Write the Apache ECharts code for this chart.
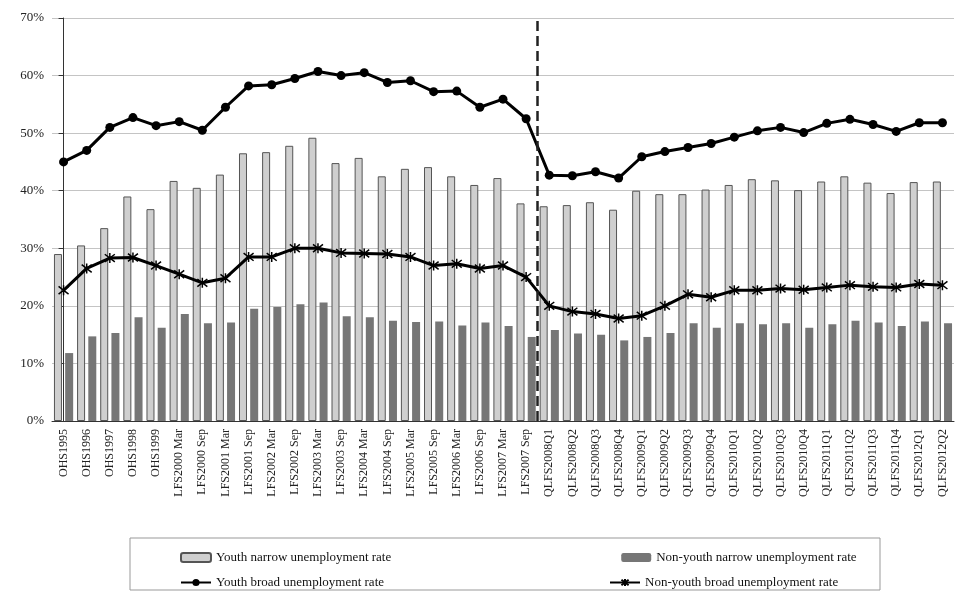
<!DOCTYPE html><html><head><meta charset="utf-8"><script src="https://cdn.jsdelivr.net/npm/echarts@6/dist/echarts.min.js"></script>
<style>body{margin:0;background:#fff}#c{width:956px;height:594px}</style></head><body><div id="c"></div><script>
const categories=["OHS1995","OHS1996","OHS1997","OHS1998","OHS1999","LFS2000 Mar","LFS2000 Sep","LFS2001 Mar","LFS2001 Sep","LFS2002 Mar","LFS2002 Sep","LFS2003 Mar","LFS2003 Sep","LFS2004 Mar","LFS2004 Sep","LFS2005 Mar","LFS2005 Sep","LFS2006 Mar","LFS2006 Sep","LFS2007 Mar","LFS2007 Sep","QLFS2008Q1","QLFS2008Q2","QLFS2008Q3","QLFS2008Q4","QLFS2009Q1","QLFS2009Q2","QLFS2009Q3","QLFS2009Q4","QLFS2010Q1","QLFS2010Q2","QLFS2010Q3","QLFS2010Q4","QLFS2011Q1","QLFS2011Q2","QLFS2011Q3","QLFS2011Q4","QLFS2012Q1","QLFS2012Q2"];
const youthNarrow=[29,30.5,33.5,39,36.8,41.7,40.5,42.8,46.5,46.7,47.8,49.2,44.8,45.7,42.5,43.8,44.1,42.5,41,42.2,37.8,37.3,37.5,38,36.7,40,39.4,39.4,40.2,41,42,41.8,40.1,41.6,42.5,41.4,39.6,41.5,41.6];
const nonYouthNarrow=[11.8,14.7,15.3,18,16.2,18.6,17,17.1,19.5,19.8,20.3,20.6,18.2,18,17.4,17.2,17.3,16.6,17.1,16.5,14.6,15.8,15.2,15,14,14.6,15.3,17,16.2,17,16.8,17,16.2,16.8,17.4,17.1,16.5,17.3,17];
const youthBroad=[45,47,51,52.7,51.3,52,50.5,54.5,58.2,58.4,59.5,60.7,60,60.5,58.8,59.1,57.2,57.3,54.5,55.9,52.5,42.7,42.6,43.3,42.2,45.9,46.8,47.5,48.2,49.3,50.4,51,50.1,51.7,52.4,51.5,50.3,51.8,51.8];
const nonYouthBroad=[22.7,26.5,28.3,28.4,27,25.5,24,24.8,28.5,28.5,30,30,29.2,29.1,29,28.5,27,27.3,26.5,27,25,20,19,18.6,17.8,18.3,20,22,21.5,22.7,22.7,23,22.8,23.2,23.6,23.3,23.2,23.8,23.6];
const breakPosition=20.5;
const F='"Liberation Serif","DejaVu Serif",serif';
const ch=echarts.init(document.getElementById('c'));
ch.setOption({
 animation:false,
 textStyle:{fontFamily:F,color:'#222'},
 grid:{left:52,right:2,top:18,bottom:173},
 xAxis:[{type:'category',data:categories,axisTick:{show:false},axisLine:{lineStyle:{color:'#333'}},
   axisLabel:{rotate:90,interval:0,fontSize:12,fontFamily:F,color:'#222'}},
  {type:'value',min:-0.5,max:38.5,show:false}],
 yAxis:{type:'value',min:0,max:70,interval:10,axisLabel:{formatter:'{value}%',fontSize:13,fontFamily:F,color:'#222'},
   axisLine:{show:true,lineStyle:{color:'#333'}},splitLine:{lineStyle:{color:'#c4c4c4'}}},
 legend:[{top:546,left:175,itemGap:230,itemWidth:30,itemHeight:9,textStyle:{fontFamily:F,fontSize:13,color:'#111'},
   data:['Youth narrow unemployment rate','Non-youth narrow unemployment rate']},
  {top:571,left:175,itemGap:225,itemWidth:30,itemHeight:9,textStyle:{fontFamily:F,fontSize:13,color:'#111'},
   data:['Youth broad unemployment rate','Non-youth broad unemployment rate']}],
 graphic:[{type:'rect',shape:{x:130,y:538,width:750,height:52},style:{fill:'none',stroke:'#999'}}],
 series:[
  {name:'Youth narrow unemployment rate',type:'bar',data:youthNarrow,barWidth:8,barGap:'40%',
   itemStyle:{color:'#cfcfcf',borderColor:'#555',borderWidth:1}},
  {name:'Non-youth narrow unemployment rate',type:'bar',data:nonYouthNarrow,barWidth:8,
   itemStyle:{color:'#767676'}},
  {name:'Youth broad unemployment rate',type:'line',data:youthBroad,symbol:'circle',symbolSize:9,
   lineStyle:{color:'#000',width:3},itemStyle:{color:'#000'}},
  {name:'Non-youth broad unemployment rate',type:'line',data:nonYouthBroad,symbol:'path://M-1,-1L1,1M1,-1L-1,1M0,-1.3L0,1.3',symbolSize:10,
   lineStyle:{color:'#000',width:3},itemStyle:{color:'none',borderColor:'#000',borderWidth:1.5}},
  {type:'line',xAxisIndex:1,data:[],silent:true,
   markLine:{symbol:'none',silent:true,label:{show:false},lineStyle:{color:'#222',type:'dashed',width:2.5},data:[{xAxis:breakPosition}]}}
 ]
});
</script></body></html>
